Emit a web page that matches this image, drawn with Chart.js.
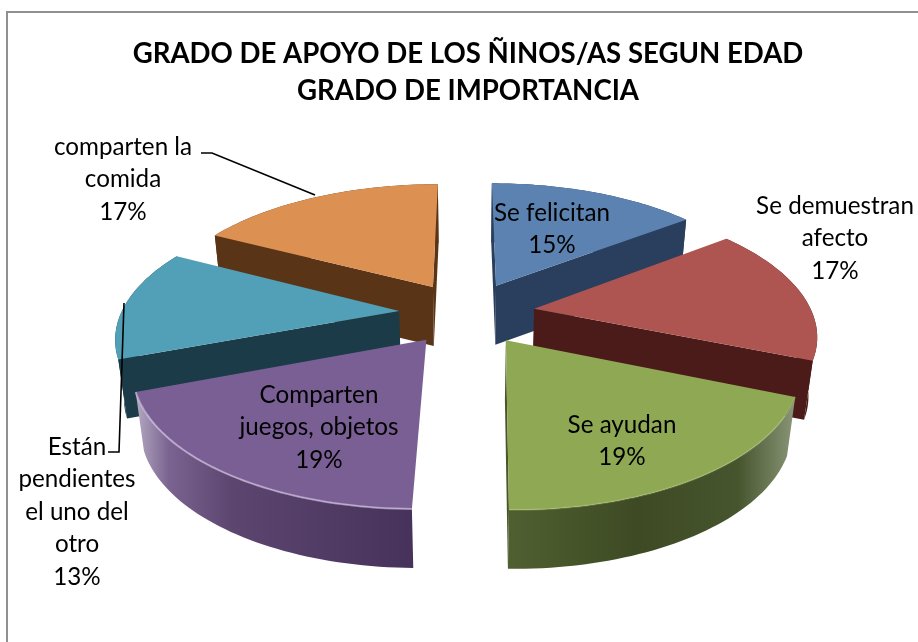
<!DOCTYPE html>
<html><head><meta charset="utf-8">
<style>html,body{margin:0;padding:0;background:#fff}canvas{display:block}</style>
<script src="https://cdn.jsdelivr.net/npm/chart.js@4"></script>
</head><body><canvas id="c" width="918" height="642"></canvas>
<script>
const categories = ["Se felicitan","Se demuestran afecto","Se ayudan","Comparten juegos, objetos","Están pendientes el uno del otro","comparten la comida"];
const values = [14.6,16.6,19.05,19.0,13.4,17.35];
const titleLines = ["GRADO DE APOYO DE LOS ÑINOS/AS SEGUN EDAD","GRADO DE IMPORTANCIA"];
const labelLines = [["Se felicitan"],["Se demuestran","afecto"],["Se ayudan"],["Comparten","juegos, objetos"],["Están","pendientes","el uno del","otro"],["comparten la","comida"]];
const topColors = ["#5b82b0","#ae5552","#8fa854","#7a5f94","#52a0b7","#dc9052"];
const cutColors = ["#2a3f5e","#4a1b18","#4a5628","#4a3558","#1a3b47","#5a3417"];
const wallStops = [
 [[0,"#2a3f5e"],[1,"#2a3f5e"]],
 [[0,"#4a1b18"],[1,"#4a1b18"]],
 [[0,"#505f30"],[0.45,"#3d4a24"],[0.8,"#47552e"],[1,"#8a9678"]],
 [[0,"#b3a8c0"],[0.12,"#7a6390"],[0.35,"#5c4670"],[1,"#46325a"]],
 [[0,"#1a3b47"],[1,"#1a3b47"]],
 [[0,"#5a3417"],[1,"#5a3417"]]
];

const drawOrder=[0,5,1,4,2,3];
const labelPos=[[552,213],[835,206],[622,425],[319,395],[77,447],[123,147]];
const FONT='Lato, Carlito, sans-serif';

const pie3d={id:'pie3d',
 beforeDraw(chart){const c=chart.ctx;c.save();c.fillStyle='#fff';c.fillRect(0,0,918,642);
  c.strokeStyle='#909090';c.lineWidth=2;c.beginPath();c.moveTo(7,642);c.lineTo(7,12);c.lineTo(918,12);c.stroke();c.restore();},
 beforeDatasetDraw(chart){
  const c=chart.ctx,meta=chart.getDatasetMeta(0),arcs=meta.data;
  const cx=arcs[0].x-1,cy=arcs[0].y;
  const A=278,a=129,b=0.175,D=59,narrow=0.975;
  const proj=(X,Y,z)=>{const s=1/(1-b*Y),x=X*A*s;return [cx+(z?x*narrow:x),cy+Y*a*s+(z?D:0)];};
  drawOrder.forEach(i=>{
   const e=arcs[i],t0=e.startAngle+Math.PI/2,t1=e.endAngle+Math.PI/2,mid=(t0+t1)/2;
   const d=0.245,ox=d*Math.sin(mid),oy=-d*Math.cos(mid);
   const n=48,rim=[],low=[];
   for(let k=0;k<=n;k++){const t=t0+(t1-t0)*k/n,X=ox+Math.sin(t),Y=oy-Math.cos(t);rim.push(proj(X,Y,0));low.push(proj(X,Y,1));}
   const ap=proj(ox,oy,0),apL=proj(ox,oy,1);
   const poly=(pts,fill)=>{c.beginPath();pts.forEach((p,j)=>j?c.lineTo(p[0],p[1]):c.moveTo(p[0],p[1]));c.closePath();c.fillStyle=fill;c.fill();};
   const xs=rim.map(p=>p[0]),x0=Math.min(...xs),x1=Math.max(...xs);
   const g=c.createLinearGradient(x0,0,x1,0);wallStops[i].forEach(st=>g.addColorStop(st[0],st[1]));
   poly(rim.concat(low.slice().reverse()),g);
   const s=rim[0],en=rim[n];
   if(s[0]<ap[0]&&i!==3) poly([ap,s,low[0],apL],cutColors[i]);
   if(ap[0]<en[0]) poly([en,ap,apL,low[n]],cutColors[i]);
   poly([ap].concat(rim),topColors[i]);
   if(i===2||i===3){c.save();c.lineWidth=2;c.strokeStyle=i===2?'rgba(200,215,140,.25)':'rgba(220,205,235,.6)';c.beginPath();
     rim.forEach((p,j)=>j?c.lineTo(p[0],p[1]):c.moveTo(p[0],p[1]));c.stroke();c.restore();}
  });
  c.save();c.strokeStyle='#000';c.lineWidth=1.6;
  c.beginPath();c.moveTo(201,153);c.lineTo(212,153);c.lineTo(315,195);c.stroke();
  c.beginPath();c.moveTo(124,303);c.lineTo(119,452);c.lineTo(108,452);c.stroke();
  c.restore();
  const tot=values.reduce((p,q)=>p+q,0);
  c.save();c.fillStyle='#000';c.font='24.2px '+FONT;c.textAlign='center';c.textBaseline='middle';
  labelLines.forEach((ls,i)=>{const [x,y]=labelPos[i];
    ls.concat([Math.round(values[i]/tot*100)+'%']).forEach((t,j)=>c.fillText(t,x,y+j*32.5));});
  c.restore();
  return false;
 }};

new Chart(document.getElementById('c'),{
 type:'pie',
 data:{labels:categories,datasets:[{data:values,backgroundColor:topColors,offset:38,borderWidth:0}]},
 plugins:[pie3d],
 options:{responsive:false,animation:false,
  layout:{padding:{left:18,right:0,top:36,bottom:136}},
  plugins:{legend:{display:false},tooltip:{enabled:false},
   title:{display:true,text:titleLines,color:'#000',font:{family:FONT,size:27.6,weight:'bold',lineHeight:1.34},padding:{top:0,bottom:10}}}}
});
</script></body></html>
